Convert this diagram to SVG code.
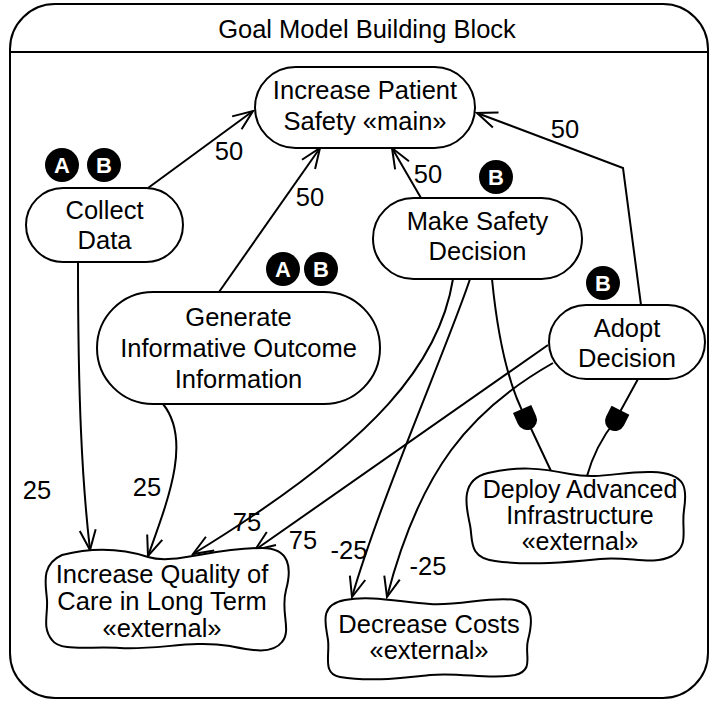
<svg xmlns="http://www.w3.org/2000/svg" width="712" height="702" viewBox="0 0 712 702">
<defs>
<style>
.n{fill:#fff;stroke:#000;stroke-width:2}
.t{font-family:"Liberation Sans",Arial,sans-serif;font-size:25.5px;text-anchor:middle;fill:#000}
.c{fill:none;stroke:#000;stroke-width:2}
.a{marker-end:url(#arr)}
.bd circle{fill:#000}
.bd text{font-family:"Liberation Sans",Arial,sans-serif;font-size:22px;font-weight:bold;text-anchor:middle;fill:#fff}
</style>
<marker id="arr" markerUnits="userSpaceOnUse" markerWidth="24" markerHeight="20" refX="22" refY="10" orient="auto" viewBox="0 0 24 20">
<path d="M2,2 L22,10 L2,18" fill="none" stroke="#000" stroke-width="2"/>
</marker>
<path id="and" d="M-10,-12 L10,-12 L10,0 A10,10 0 0 1 -10,0 Z" fill="#000"/>
</defs>
<rect width="712" height="702" fill="#fff"/>
<g id="frame">
<rect x="10" y="4" width="698" height="694" rx="45" class="n"/>
<line x1="10" y1="52" x2="708" y2="52" stroke="#000" stroke-width="2"/>
<text x="367" y="38" class="t">Goal Model Building Block</text>
</g>
<g id="connectors">
<path class="c a" d="M148,188 L253,111"/>
<path class="c a" d="M219,292 L320,148"/>
<path class="c a" d="M421,198 L392,148"/>
<path class="c a" d="M641,305 L623,168 L477,113"/>
<path class="c a" d="M78,262 C78,400 82,480 90,550"/>
<path class="c a" d="M163,404 C192,440 168,500 148,556"/>
<path class="c a" d="M453,279 C440,360 380,440 193,554"/>
<path class="c a" d="M548,345 L255,550"/>
<path class="c a" d="M470,279 C450,340 380,500 352,597"/>
<path class="c a" d="M553,363 C470,410 420,470 387,597"/>
<path class="c" d="M492,279 C498,340 510,390 527,420 L551,471"/>
<path class="c" d="M638,379 L615,421 C600,440 592,458 587,476"/>
<use href="#and" transform="translate(527,420) rotate(-24)"/>
<use href="#and" transform="translate(615,421) rotate(27)"/>
<text x="229" y="160" class="t">50</text>
<text x="310" y="206" class="t">50</text>
<text x="428" y="183" class="t">50</text>
<text x="565" y="138" class="t">50</text>
<text x="37" y="499" class="t">25</text>
<text x="147" y="496" class="t">25</text>
<text x="247" y="531" class="t">75</text>
<text x="303" y="549" class="t">75</text>
<text x="349" y="559" class="t">-25</text>
<text x="428" y="575" class="t">-25</text>
</g>
<g id="increase-patient-safety">
<rect x="255" y="67" width="220" height="81" rx="40.5" class="n"/>
<text x="365" y="99" class="t">Increase Patient</text>
<text x="365" y="130" class="t">Safety «main»</text>
</g>
<g id="collect-data">
<rect x="26" y="188" width="157" height="74" rx="37" class="n"/>
<text x="104.5" y="219" class="t">Collect</text>
<text x="104.5" y="249" class="t">Data</text>
<g class="bd"><circle cx="62" cy="165" r="17"/><text x="62" y="173">A</text><circle cx="104" cy="165" r="17"/><text x="104" y="173">B</text></g>
</g>
<g id="generate-informative">
<rect x="97" y="292" width="283" height="112" rx="56" class="n"/>
<text x="238.5" y="326" class="t">Generate</text>
<text x="238.5" y="357" class="t">Informative Outcome</text>
<text x="238.5" y="388" class="t">Information</text>
<g class="bd"><circle cx="283" cy="269" r="17"/><text x="283" y="277">A</text><circle cx="321" cy="269" r="17"/><text x="321" y="277">B</text></g>
</g>
<g id="make-safety-decision">
<rect x="373" y="198" width="209" height="81" rx="40.5" class="n"/>
<text x="477.5" y="230" class="t">Make Safety</text>
<text x="477.5" y="260" class="t">Decision</text>
<g class="bd"><circle cx="496" cy="177" r="17"/><text x="496" y="185">B</text></g>
</g>
<g id="adopt-decision">
<rect x="549" y="305" width="156" height="74" rx="37" class="n"/>
<text x="627" y="337" class="t">Adopt</text>
<text x="627" y="367" class="t">Decision</text>
<g class="bd"><circle cx="603" cy="283" r="17"/><text x="603" y="291">B</text></g>
</g>
<g id="deploy-advanced-infrastructure">
<path class="n" d="M488,473 C518,466 540,468 570,474 C600,480 620,471 652,472 C688,473 687,490 684,510 C681,530 690,545 672,556 C652,566 630,556 600,559 C570,562 530,566 495,561 C468,558 473,540 470,525 C467,510 458,480 488,473 Z"/>
<text x="580" y="498" class="t" style="font-size:25px">Deploy Advanced</text>
<text x="580" y="524" class="t" style="font-size:25px">Infrastructure</text>
<text x="580" y="550" class="t" style="font-size:25px">«external»</text>
</g>
<g id="increase-quality-of-care">
<path class="n" d="M62,555 C90,548 120,548 148,557 C175,565 210,548 262,548 C290,548 292,568 286,590 C280,612 292,630 282,642 C272,655 250,650 230,646 C190,640 160,650 120,648 C90,646 60,652 52,640 C42,628 48,615 47,600 C46,585 40,565 62,555 Z"/>
<text x="162" y="583" class="t">Increase Quality of</text>
<text x="162" y="610" class="t">Care in Long Term</text>
<text x="162" y="637" class="t">«external»</text>
</g>
<g id="decrease-costs">
<path class="n" d="M345,600 C370,595 400,602 430,604 C460,606 490,596 515,600 C535,604 532,625 528,640 C524,655 535,670 515,675 C490,680 460,672 430,675 C400,678 370,682 340,677 C322,674 330,655 328,640 C326,625 318,605 345,600 Z"/>
<text x="429" y="633" class="t">Decrease Costs</text>
<text x="429" y="659" class="t">«external»</text>
</g>
</svg>
